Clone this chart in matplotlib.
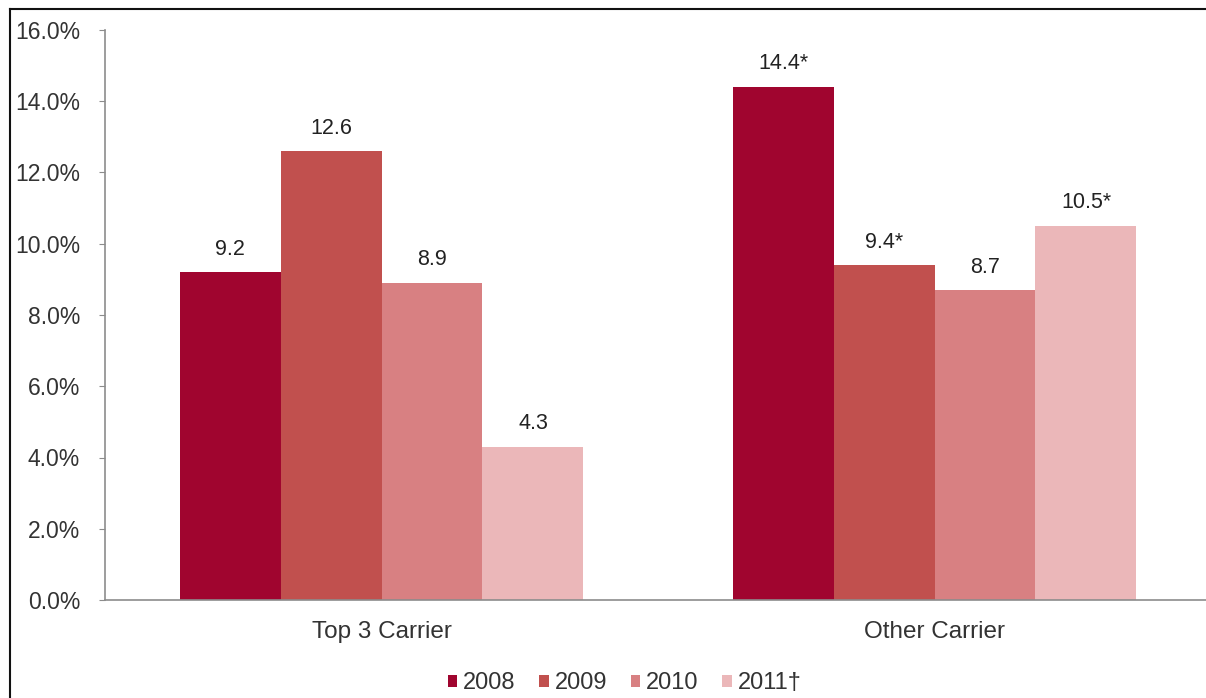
import numpy as np
import matplotlib.pyplot as plt
from matplotlib.lines import Line2D
from matplotlib.ticker import PercentFormatter

plt.rcParams['font.family'] = ['Liberation Sans', 'DejaVu Sans']

carriers = ['Top 3 Carrier', 'Other Carrier']
years = ['2008', '2009', '2010', '2011\u2020']
rates = {
    '2008': [9.2, 14.4],
    '2009': [12.6, 9.4],
    '2010': [8.9, 8.7],
    '2011\u2020': [4.3, 10.5],
}
bar_labels = {
    '2008': ['9.2', '14.4*'],
    '2009': ['12.6', '9.4*'],
    '2010': ['8.9', '8.7'],
    '2011\u2020': ['4.3', '10.5*'],
}
colors = ['#a0052f', '#c1504e', '#d88082', '#ebb7b9']

fig = plt.figure(figsize=(12.06, 6.98), dpi=100)
ax = fig.add_axes([105 / 1206, 98 / 698, 1106 / 1206, 570 / 698])

x = np.arange(len(carriers))
w = 0.1826
for i, yr in enumerate(years):
    pos = x + (i - 1.5) * w
    bars = ax.bar(pos, rates[yr], width=w, color=colors[i], label=yr, zorder=2)
    for b, lab in zip(bars, bar_labels[yr]):
        ax.annotate(lab, (b.get_x() + b.get_width() / 2, b.get_height()),
                    xytext=(0, 9), textcoords='offset points',
                    ha='center', va='bottom', fontsize=15.5, color='#222222')

ax.set_xlim(-0.5, 1.5)
ax.set_ylim(0, 16)
ax.set_yticks(np.arange(0, 17, 2))
ax.yaxis.set_major_formatter(PercentFormatter(decimals=1))
ax.set_xticks(x)
ax.set_xticklabels(carriers)

for s in ['top', 'right']:
    ax.spines[s].set_visible(False)
for s in ['left', 'bottom']:
    ax.spines[s].set_color('#8c8c8c')
    ax.spines[s].set_linewidth(1.2)
ax.tick_params(axis='y', length=4, color='#8c8c8c', pad=14, labelsize=16.5, labelcolor='#333333')
ax.tick_params(axis='x', length=0, pad=15, labelsize=17.5, labelcolor='#333333')

leg = fig.legend(loc='center', bbox_to_anchor=(0.518, 1 - 683 / 698), ncol=4,
                 frameon=False, fontsize=17, handlelength=0.4, handleheight=0.4,
                 handletextpad=0.25, columnspacing=1.0)
for t in leg.get_texts():
    t.set_color('#333333')

# outer frame (left and top edges)
fig.add_artist(Line2D([10 / 1206, 10 / 1206], [0, 1 - 9 / 698], transform=fig.transFigure,
                      color='#111111', linewidth=1.5))
fig.add_artist(Line2D([10 / 1206, 1], [1 - 9 / 698, 1 - 9 / 698], transform=fig.transFigure,
                      color='#111111', linewidth=1.5))

fig.savefig('out.png', dpi=100)
